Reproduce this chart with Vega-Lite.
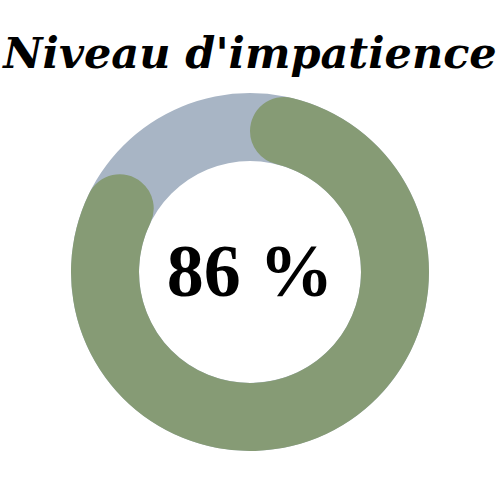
{
  "$schema": "https://vega.github.io/schema/vega-lite/v6.json",
  "autosize": "none",
  "width": 500,
  "height": 456,
  "padding": {"top": 44, "left": 0, "right": 0, "bottom": 0},
  "background": "white",
  "title": {
    "text": "Niveau d'impatience",
    "anchor": "middle",
    "font": "DejaVu Serif",
    "fontSize": 43,
    "fontWeight": "bold",
    "fontStyle": "italic",
    "color": "black",
    "offset": -33
  },
  "data": {
    "values": [
      {"part": "fond", "value": 100, "label": ""},
      {"part": "impatience", "value": 86, "label": "86 %"}
    ]
  },
  "layer": [
    {
      "transform": [{"filter": "datum.part === 'fond'"}],
      "mark": {"type": "arc", "innerRadius": 111, "outerRadius": 179, "color": "#A8B5C5"},
      "encoding": {
        "theta": {"field": "value", "type": "quantitative", "scale": {"domain": [0, 100]}}
      }
    },
    {
      "transform": [{"filter": "datum.part === 'impatience'"}],
      "mark": {"type": "arc", "innerRadius": 111, "outerRadius": 179, "cornerRadius": 34, "color": "#869B75"},
      "encoding": {
        "theta": {"field": "value", "type": "quantitative", "scale": {"domain": [0, 100]}}
      }
    },
    {
      "transform": [{"filter": "datum.part === 'impatience'"}],
      "mark": {"type": "text", "font": "Liberation Serif", "fontSize": 74, "fontWeight": "bold", "color": "black", "baseline": "middle", "dy": 2},
      "encoding": {
        "text": {"field": "label", "type": "nominal"}
      }
    }
  ],
  "config": {
    "view": {"stroke": null}
  }
}
